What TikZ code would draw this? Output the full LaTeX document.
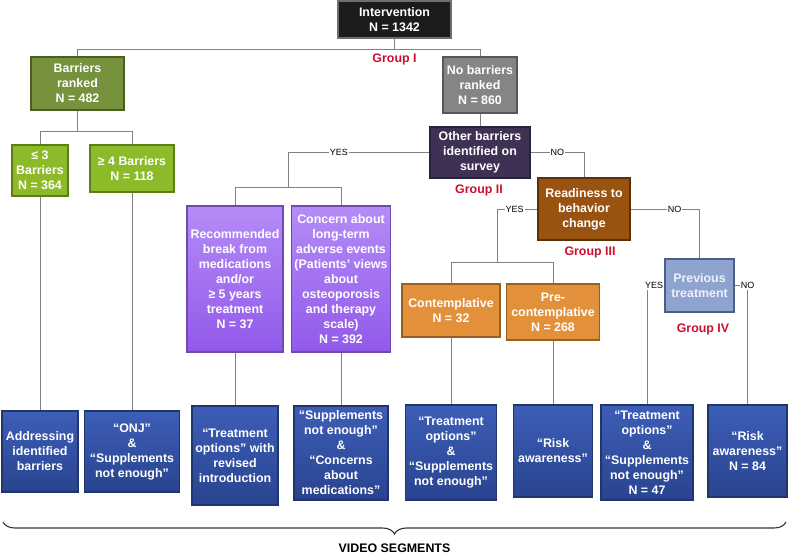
\documentclass[tikz,border=0pt]{standalone}
\usepackage{fontspec}
\setmainfont{Liberation Sans}
\usetikzlibrary{decorations.pathreplacing}

\definecolor{intvfill}{HTML}{1C1C1C}
\definecolor{intvedge}{HTML}{6E6E6E}
\definecolor{olivefill}{HTML}{76923C}
\definecolor{oliveedge}{HTML}{4A5E22}
\definecolor{limefill}{HTML}{8DBA28}
\definecolor{limeedge}{HTML}{5E7D17}
\definecolor{greyfill}{HTML}{858585}
\definecolor{greyedge}{HTML}{585858}
\definecolor{plumfill}{HTML}{3F3153}
\definecolor{plumedge}{HTML}{2A2140}
\definecolor{brownfill}{HTML}{9A5211}
\definecolor{brownedge}{HTML}{5C3008}
\definecolor{orangefill}{HTML}{E2913A}
\definecolor{orangeedge}{HTML}{97601F}
\definecolor{violettop}{HTML}{B48CF7}
\definecolor{violetbot}{HTML}{9259EA}
\definecolor{violetedge}{HTML}{7048B0}
\definecolor{steelfill}{HTML}{8EA3D0}
\definecolor{steeledge}{HTML}{505F80}
\definecolor{steeltext}{HTML}{EEF1F8}
\definecolor{vidtop}{HTML}{3D5EB7}
\definecolor{vidbot}{HTML}{29448F}
\definecolor{videdge}{HTML}{22346C}
\definecolor{grpred}{HTML}{C8102E}
\definecolor{linkgrey}{HTML}{808080}

\tikzset{
  box/.style={draw, line width=1.4pt, text=white, align=center, inner sep=0pt,
    font=\bfseries\fontsize{12.4}{15}\selectfont},
  wh/.style 2 args={minimum width=#1pt, minimum height=#2pt},
  vidbox/.style={box, draw=videdge, top color=vidtop, bottom color=vidbot},
  grp/.style={text=grpred, font=\bfseries\fontsize{12.4}{14}\selectfont},
  yn/.style={fill=white, inner sep=1pt, font=\fontsize{9}{10}\selectfont},
  link/.style={draw=linkgrey, line width=0.8pt},
}

\begin{document}
\begin{tikzpicture}[x=1pt, y=-1pt]
  \useasboundingbox (0,0) rectangle (789,556);
  % top levels
  \node[box, wh={113}{37}, fill=intvfill, draw=intvedge] (intv) at (394.5,19.5) {Intervention\\N = 1342};
  \node[box, wh={93}{53}, fill=olivefill, draw=oliveedge] (barr) at (77.5,83.5) {Barriers\\ranked\\N = 482};
  \node[box, wh={74}{56}, fill=greyfill, draw=greyedge] (nobarr) at (480,85) {No barriers\\ranked\\N = 860};
  \node[box, wh={56}{51}, fill=limefill, draw=limeedge] (lethree) at (40,170.5) {≤ 3\\Barriers\\N = 364};
  \node[box, wh={84}{47}, fill=limefill, draw=limeedge] (gefour) at (132,168.5) {≥ 4 Barriers\\N = 118};
  \node[box, wh={100}{51}, fill=plumfill, draw=plumedge] (other) at (480,152.5) {Other barriers\\identified on\\survey};
  \node[box, wh={92}{62}, fill=brownfill, draw=brownedge] (ready) at (584,209) {Readiness to\\behavior\\change};
  \node[box, wh={96}{146}, draw=violetedge, top color=violettop, bottom color=violetbot] (recbrk) at (235,279) {Recommended\\break from\\medications\\and/or\\≥ 5 years\\treatment\\N = 37};
  \node[box, wh={99}{146}, draw=violetedge, top color=violettop, bottom color=violetbot] (concern) at (341,279) {Concern about\\long-term\\adverse events\\(Patients’ views\\about\\osteoporosis\\and therapy\\scale)\\N = 392};
  \node[box, wh={98}{53}, fill=orangefill, draw=orangeedge] (contem) at (451,310.5) {Contemplative\\N = 32};
  \node[box, wh={93}{56}, fill=orangefill, draw=orangeedge] (precon) at (553,312) {Pre-\\contemplative\\N = 268};
  \node[box, wh={69}{53}, fill=steelfill, draw=steeledge, text=steeltext] (prev) at (699.5,285.5) {Previous\\treatment};
  %
  \node[grp] (grpI) at (394.5,59) {Group I};
  \node[grp] (grpII) at (479,190) {Group II};
  \node[grp] (grpIII) at (590,252) {Group III};
  \node[grp] (grpIV) at (703,329) {Group IV};
  % video segments
  \node[vidbox, wh={76}{81}] (vsone) at (40,451.5) {Addressing\\identified\\barriers};
  \node[vidbox, wh={95}{81}] (vstwo) at (132,451.5) {“ONJ”\\\&\\“Supplements\\not enough”};
  \node[vidbox, wh={86}{99}] (vsthree) at (235,455.5) {“Treatment\\options” with\\revised\\introduction};
  \node[vidbox, wh={94}{94}] (vsfour) at (341,453) {“Supplements\\not enough”\\\&\\“Concerns\\about\\medications”};
  \node[vidbox, wh={91}{95}] (vsfive) at (451,452.5) {“Treatment\\options”\\\&\\“Supplements\\not enough”};
  \node[vidbox, wh={79}{92}] (vssix) at (553,451) {“Risk\\awareness”};
  \node[vidbox, wh={92}{95}] (vsseven) at (647,452.5) {“Treatment\\options”\\\&\\“Supplements\\not enough”\\N = 47};
  \node[vidbox, wh={79}{92}] (vseight) at (747.5,451) {“Risk\\awareness”\\N = 84};
  %
  \coordinate (splitII) at (288,187);
  \coordinate (splitIII) at (497,262);
  % connectors
  \draw[link] (intv.south) -- +(0,11) -| (barr.north);
  \draw[link] (intv.south) -- +(0,11) -| (nobarr.north);
  \draw[link] (barr.south) -- +(0,21) -| (lethree.north);
  \draw[link] (barr.south) -- +(0,21) -| (gefour.north);
  \draw[link] (nobarr.south) -- (other.north);
  \draw[link] (other.west) -| node[yn, pos=0.32] {YES} (splitII);
  \draw[link] (splitII) -| (recbrk.north);
  \draw[link] (splitII) -| (concern.north);
  \draw[link] (other.east) -| node[yn, pos=0.25] {NO} (ready.north);
  \draw[link] (ready.west) -| node[yn, pos=0.28] {YES} (splitIII);
  \draw[link] (splitIII) -| (contem.north);
  \draw[link] (splitIII) -| (precon.north);
  \draw[link] (ready.east) -| node[yn, pos=0.32] {NO} (prev.north);
  \draw[link] (prev.west) -| node[yn, pos=0.5, xshift=7pt] {YES} (vsseven.north);
  \draw[link] (prev.east) -| node[yn, pos=0.5] {NO} (vseight.north);
  \draw[link] (lethree.south) -- (vsone.north);
  \draw[link] (gefour.south) -- (vstwo.north);
  \draw[link] (recbrk.south) -- (vsthree.north);
  \draw[link] (concern.south) -- (vsfour.north);
  \draw[link] (contem.south) -- (vsfive.north);
  \draw[link] (precon.south) -- (vssix.north);
  % brace
  \draw[decorate, decoration={brace, mirror, amplitude=12pt}, line width=1.1pt, draw=black!80] (3,522) -- (786,522);
  \node[font=\bfseries\fontsize{12.4}{14}\selectfont] (vidseg) at (394.5,548) {VIDEO SEGMENTS};
\end{tikzpicture}
\end{document}
